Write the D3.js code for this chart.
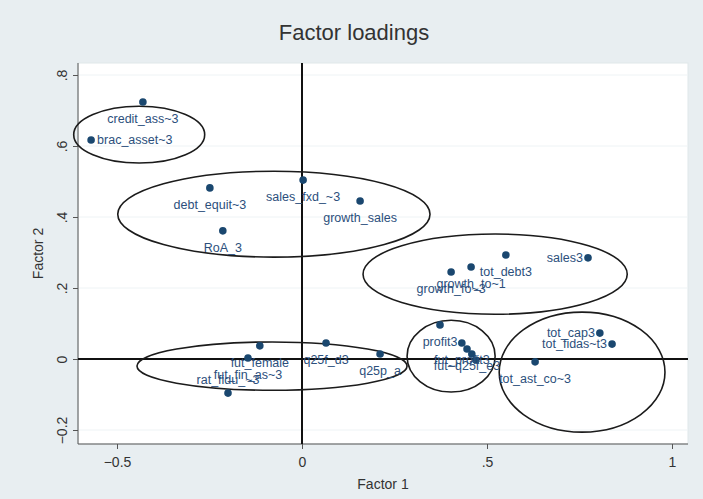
<!DOCTYPE html>
<html>
<head>
<meta charset="utf-8">
<script src="https://cdn.jsdelivr.net/npm/d3@7"></script>
<style>
  html, body { margin: 0; padding: 0; background: #e8eef1; }
  svg { display: block; font-family: "Liberation Sans", Arial, sans-serif; }
</style>
</head>
<body>
<svg id="chart" width="703" height="499"></svg>
<script>
// Variable names (as abbreviated by the stats package) and their loadings
const names = [
  "credit_ass~3", "brac_asset~3", "debt_equit~3", "RoA_3", "sales_fxd_~3",
  "growth_sales", "sales3", "tot_debt3", "growth_to~1", "growth_fo~3",
  "profit3", "fut_profit3", "fut~q25f_e3", "", "",
  "tot_cap3", "tot_fidas~t3", "tot_ast_co~3",
  "fut_female", "fut_fin_as~3", "rat_fidu_~3", "q25f_d3", "q25p_a"
];
const factor1 = [
  -0.430, -0.570, -0.249, -0.214, 0.003,
  0.157, 0.773, 0.551, 0.457, 0.403,
  0.373, 0.432, 0.446, 0.459, 0.470,
  0.805, 0.838, 0.630,
  -0.114, -0.146, -0.200, 0.065, 0.211
];
const factor2 = [
  0.724, 0.617, 0.482, 0.361, 0.504,
  0.445, 0.285, 0.293, 0.259, 0.245,
  0.096, 0.045, 0.028, 0.014, -0.003,
  0.073, 0.042, -0.008,
  0.037, 0.003, -0.096, 0.045, 0.014
];
// Marker-label clock positions (3 = right, 6 = below, 9 = left, 12 = above)
const labelPos = [
  6, 3, 6, 6, 6,
  6, 9, 6, 6, 6,
  6, 6, 6, 6, 6,
  9, 9, 6,
  6, 6, 12, 6, 6
];

// Groupings drawn as ellipses (centre and semi-axes in loading units)
const groupCx = [-0.440, -0.076, 0.522, -0.081, 0.403, 0.757];
const groupCy = [0.632, 0.408, 0.239, -0.020, 0.008, -0.037];
const groupRx = [0.177, 0.422, 0.357, 0.365, 0.119, 0.224];
const groupRy = [0.080, 0.121, 0.113, 0.068, 0.101, 0.169];

const xTicks = [-0.5, 0, 0.5, 1];
const yTicks = [-0.2, 0, 0.2, 0.4, 0.6, 0.8];

const svg = d3.select("#chart");
const W = 703, H = 499;
const plot = { left: 78, right: 688, top: 63, bottom: 444 };

const x = d3.scaleLinear().domain([-0.5, 1]).range([117, 672]);
const y = d3.scaleLinear().domain([0, 0.8]).range([359, 75]);

// Stata-style numbers: drop the leading zero
const fmt = v => {
  if (Math.abs(v) < 1e-9) return "0";
  let s = d3.format("")(+v.toFixed(2));
  return s.replace(/^(-?)0\./, "$1.");
};

const navy = "#1a476f";

svg.append("rect").attr("width", W).attr("height", H).attr("fill", "#e8eef1");

// Plot region
svg.append("rect")
  .attr("x", plot.left).attr("y", plot.top)
  .attr("width", plot.right - plot.left).attr("height", plot.bottom - plot.top)
  .attr("fill", "#ffffff").attr("stroke", "#dfe7ea").attr("stroke-width", 1);

// Horizontal grid lines
svg.append("g").selectAll("line").data(yTicks).join("line")
  .attr("x1", plot.left).attr("x2", plot.right)
  .attr("y1", d => y(d)).attr("y2", d => y(d))
  .attr("stroke", "#eef3f5").attr("stroke-width", 1);

// Title
svg.append("text")
  .attr("x", 354).attr("y", 40)
  .attr("text-anchor", "middle")
  .attr("font-size", 22).attr("fill", "#333")
  .text("Factor loadings");

// X axis
const xAxis = d3.axisBottom(x).tickValues(xTicks).tickFormat(fmt).tickSize(5).tickPadding(8);
const gx = svg.append("g").attr("transform", `translate(0,${plot.bottom})`).call(xAxis);
gx.select(".domain").attr("d", `M${plot.left},0H${plot.right}`).attr("stroke", "#555");
gx.selectAll(".tick line").attr("stroke", "#555");
gx.selectAll(".tick text").attr("font-size", 14).attr("fill", "#333")
  .attr("font-family", "Liberation Sans, Arial, sans-serif");

// Y axis with vertical tick labels
const yAxis = d3.axisLeft(y).tickValues(yTicks).tickFormat(fmt).tickSize(5);
const gy = svg.append("g").attr("transform", `translate(${plot.left},0)`).call(yAxis);
gy.select(".domain").attr("d", `M0,${plot.top}V${plot.bottom}`).attr("stroke", "#555");
gy.selectAll(".tick line").attr("stroke", "#555");
gy.selectAll(".tick text")
  .attr("font-size", 14).attr("fill", "#333")
  .attr("font-family", "Liberation Sans, Arial, sans-serif")
  .attr("x", null).attr("dy", null)
  .attr("text-anchor", "middle")
  .attr("transform", "translate(-11,0) rotate(-90)");

// Axis titles
svg.append("text")
  .attr("x", (plot.left + plot.right) / 2).attr("y", 489)
  .attr("text-anchor", "middle").attr("font-size", 14).attr("fill", "#333")
  .text("Factor 1");
svg.append("text")
  .attr("transform", `translate(43,${(plot.top + plot.bottom) / 2}) rotate(-90)`)
  .attr("text-anchor", "middle").attr("font-size", 14).attr("fill", "#333")
  .text("Factor 2");

// Reference lines at zero
svg.append("line")
  .attr("x1", x(0)).attr("x2", x(0)).attr("y1", plot.top).attr("y2", plot.bottom)
  .attr("stroke", "#111").attr("stroke-width", 2);
svg.append("line")
  .attr("x1", plot.left).attr("x2", plot.right).attr("y1", y(0)).attr("y2", y(0))
  .attr("stroke", "#111").attr("stroke-width", 2);

// Group ellipses
const groups = groupCx.map((cx, i) => ({ cx, cy: groupCy[i], rx: groupRx[i], ry: groupRy[i] }));
const pxPerX = x(1) - x(0), pxPerY = y(0) - y(1);
svg.append("g").selectAll("ellipse").data(groups).join("ellipse")
  .attr("cx", d => x(d.cx)).attr("cy", d => y(d.cy))
  .attr("rx", d => d.rx * pxPerX).attr("ry", d => d.ry * pxPerY)
  .attr("fill", "none").attr("stroke", "#1b1b1b").attr("stroke-width", 1.6);

// Points and labels
const pts = names.map((n, i) => ({ name: n, f1: factor1[i], f2: factor2[i], pos: labelPos[i] }));
const gp = svg.append("g");
gp.selectAll("circle").data(pts).join("circle")
  .attr("cx", d => x(d.f1)).attr("cy", d => y(d.f2))
  .attr("r", 3.8).attr("fill", navy);

const place = {
  3:  { anchor: "start",  dx: 6,  dy: 4 },
  9:  { anchor: "end",    dx: -5, dy: 4 },
  6:  { anchor: "middle", dx: 0,  dy: 21 },
  12: { anchor: "middle", dx: 0,  dy: -9 }
};
gp.selectAll("text").data(pts.filter(d => d.name)).join("text")
  .attr("x", d => x(d.f1) + place[d.pos].dx)
  .attr("y", d => y(d.f2) + place[d.pos].dy)
  .attr("text-anchor", d => place[d.pos].anchor)
  .attr("font-size", 12.5).attr("fill", "#2c4f7c")
  .text(d => d.name);
</script>
</body>
</html>
